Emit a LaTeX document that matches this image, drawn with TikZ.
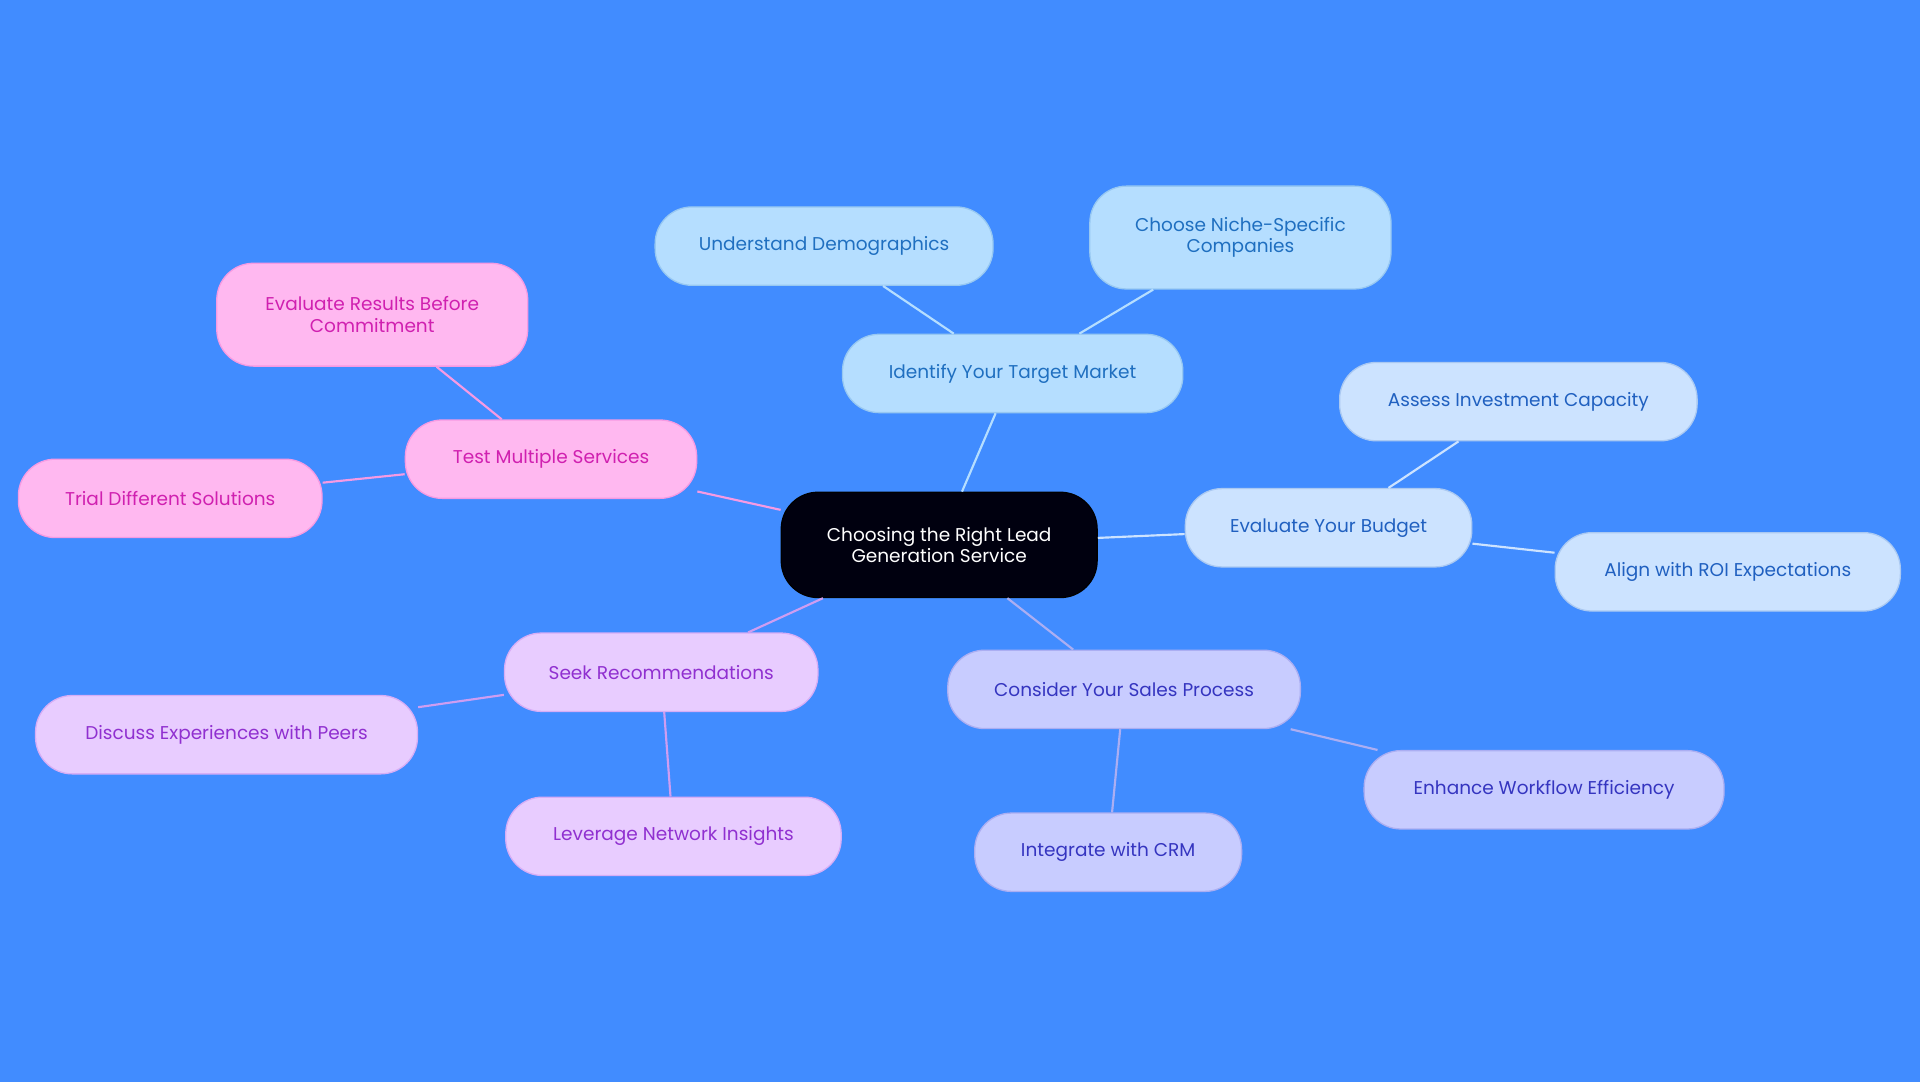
\documentclass[tikz,border=0pt]{standalone}
\usepackage{fontspec}
\setmainfont{Poppins}
\usetikzlibrary{positioning}
\definecolor{bg}{HTML}{418CFF}
\definecolor{blfill}{HTML}{B5DEFF}\definecolor{bltext}{HTML}{1F6FC0}
\definecolor{bufill}{HTML}{CCE3FF}\definecolor{butext}{HTML}{2060C0}
\definecolor{safill}{HTML}{C8CCFF}\definecolor{satext}{HTML}{3535C0}
\definecolor{sefill}{HTML}{E8CCFF}\definecolor{setext}{HTML}{9030D0}
\definecolor{tefill}{HTML}{FFB8F0}\definecolor{tetext}{HTML}{D020B0}
\begin{document}
\begin{tikzpicture}[x=0.02cm, y=-0.02cm,
    box/.style={rectangle, rounded corners=0.6cm, minimum height=1.28cm, align=center, font=\fontsize{8.6}{10}\selectfont, line width=0.6pt},
    blue/.style={box, fill=blfill, draw=blfill!80!bltext, text=bltext},
    budg/.style={box, fill=bufill, draw=bufill!80!butext, text=butext},
    sale/.style={box, fill=safill, draw=safill!80!satext, text=satext},
    seek/.style={box, fill=sefill, draw=sefill!80!setext, text=setext},
    test/.style={box, fill=tefill, draw=tefill!80!tetext, text=tetext},
    link/.style={line width=1pt}
]
    \fill[bg] (0,0) rectangle (1568,884);
    \useasboundingbox (0,0) rectangle (1568,884);

    % Center
    \node[box, fill=black!90!blue!60!black, draw=black, text=white, minimum width=5.16cm, minimum height=1.72cm] (root) at (767,445) {Choosing the Right Lead\\Generation Service};

    % Branches
    \node[blue, minimum width=5.56cm] (market) at (827,305) {Identify Your Target Market};
    \node[blue, minimum width=5.52cm] (demo) at (673,201) {Understand Demographics};
    \node[blue, minimum width=4.92cm, minimum height=1.68cm] (niche) at (1013,194) {Choose Niche-Specific\\Companies};

    \node[budg, minimum width=4.68cm] (budget) at (1085,431) {Evaluate Your Budget};
    \node[budg, minimum width=5.84cm] (invest) at (1240,328) {Assess Investment Capacity};
    \node[budg, minimum width=5.64cm] (roi) at (1411,467) {Align with ROI Expectations};

    \node[sale, minimum width=5.76cm] (sales) at (918,563) {Consider Your Sales Process};
    \node[sale, minimum width=4.36cm] (crm) at (905,696) {Integrate with CRM};
    \node[sale, minimum width=5.88cm] (flow) at (1261,645) {Enhance Workflow Efficiency};

    \node[seek, minimum width=5.12cm] (recom) at (540,549) {Seek Recommendations};
    \node[seek, minimum width=6.24cm] (peers) at (185,600) {Discuss Experiences with Peers};
    \node[seek, minimum width=5.48cm] (network) at (550,683) {Leverage Network Insights};

    \node[test, minimum width=4.76cm] (multi) at (450,375) {Test Multiple Services};
    \node[test, minimum width=4.96cm] (trial) at (139,407) {Trial Different Solutions};
    \node[test, minimum width=5.08cm, minimum height=1.68cm] (results) at (304,257) {Evaluate Results Before\\Commitment};

    % Connectors
    \begin{scope}[on background layer/.style={}]
    \draw[link, draw=blfill] (root) -- (market) (market) -- (demo) (market) -- (niche);
    \draw[link, draw=bufill] (root) -- (budget) (budget) -- (invest) (budget) -- (roi);
    \draw[link, draw=safill!80!satext] (root) -- (sales) (sales) -- (crm) (sales) -- (flow);
    \draw[link, draw=sefill!70!setext] (root) -- (recom) (recom) -- (peers) (recom) -- (network);
    \draw[link, draw=tefill!80!tetext] (root) -- (multi) (multi) -- (trial) (multi) -- (results);
    \end{scope}
\end{tikzpicture}
\end{document}
